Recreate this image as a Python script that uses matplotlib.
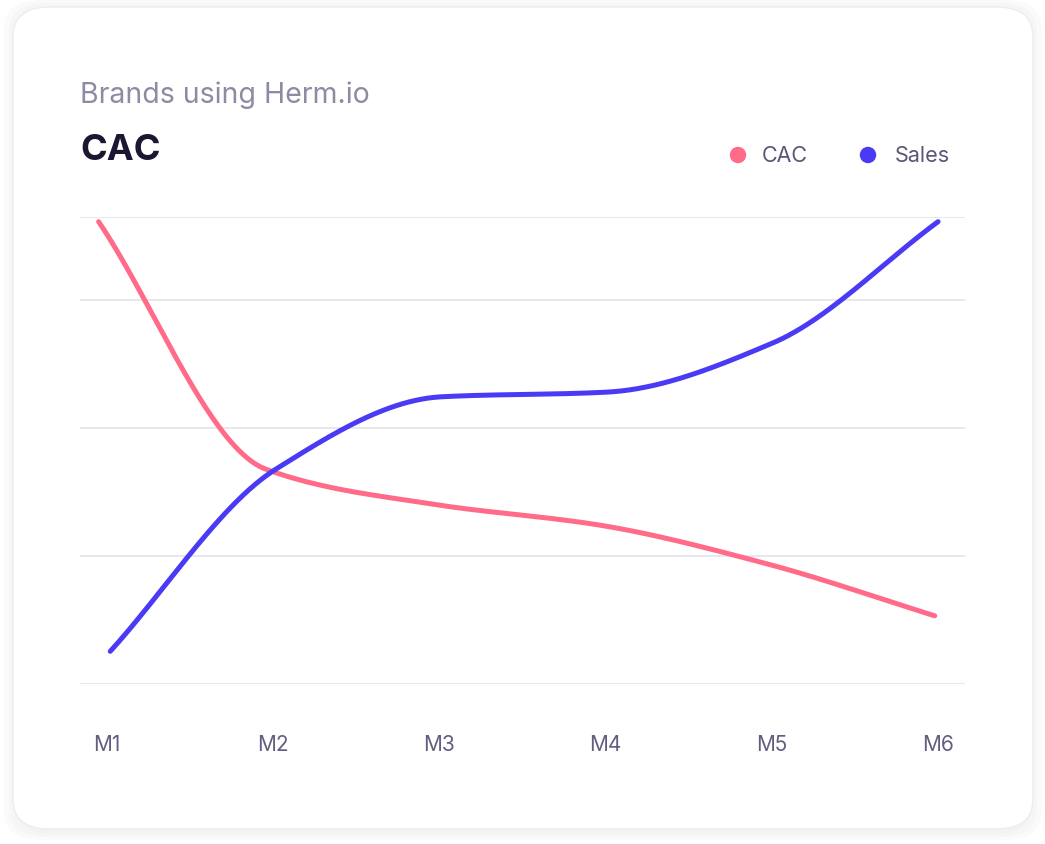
import numpy as np
import matplotlib
matplotlib.use("Agg")
import matplotlib.pyplot as plt
from matplotlib.patches import FancyBboxPatch, Ellipse

months = ["M1", "M2", "M3", "M4", "M5", "M6"]
cac = [99, 46, 38.5, 34, 25.7, 14.6]
sales = [7, 46, 61.5, 62.5, 73, 99]
grid_vals = [0, 27.4, 54.8, 82.2, 100]

def pchip(x, y, xs):
    x = np.asarray(x, float); y = np.asarray(y, float)
    h = np.diff(x); d = np.diff(y) / h
    m = np.zeros_like(y)
    for i in range(1, len(y) - 1):
        if d[i-1] * d[i] > 0:
            w1 = 2*h[i] + h[i-1]; w2 = h[i] + 2*h[i-1]
            m[i] = (w1 + w2) / (w1/d[i-1] + w2/d[i])
    m[0] = d[0]; m[-1] = d[-1]
    out = np.empty_like(xs)
    for k, t in enumerate(xs):
        i = min(int(np.searchsorted(x, t, side='right') - 1), len(x) - 2)
        s = (t - x[i]) / h[i]
        h00 = 2*s**3 - 3*s**2 + 1; h10 = s**3 - 2*s**2 + s
        h01 = -2*s**3 + 3*s**2; h11 = s**3 - s**2
        out[k] = h00*y[i] + h10*h[i]*m[i] + h01*y[i+1] + h11*h[i]*m[i+1]
    return out

fig = plt.figure(figsize=(10.45, 8.45), dpi=100)
fig.patch.set_facecolor("white")
W, H = 1045, 845
for i, a in enumerate([0.02, 0.015, 0.01]):
    g = (3 - i) * 3
    fig.patches.append(FancyBboxPatch(((13-g+i*2)/W, (845-832-g)/H), (1020+2*g-i*4)/W, (822+2*g)/H,
        boxstyle="round,pad=0,rounding_size=0.035", transform=fig.transFigure,
        facecolor="black", alpha=a, edgecolor="none", zorder=0))
fig.patches.append(FancyBboxPatch((13/W, (845-830)/H), 1020/W, 822/H,
    boxstyle="round,pad=0,rounding_size=0.035", transform=fig.transFigure,
    facecolor="white", edgecolor="#ececf2", linewidth=1, zorder=1))

ax = fig.add_axes([80/W, (845-685)/H, 885/W, 467/H])
ax.set_zorder(5)
ax.set_facecolor("none")
x = np.arange(len(months))
xs = np.linspace(0, 5, 400)
ax.plot(xs + np.interp(xs, [0, 5], [-0.05, -0.02]), pchip(x, cac, xs), color="#ff6b88", lw=3.6, solid_capstyle="round", zorder=3)
ax.plot(xs + np.interp(xs, [0, 5], [0.02, 0.0]), pchip(x, sales, xs), color="#4b3af5", lw=3.6, solid_capstyle="round", zorder=4)
for g in grid_vals:
    ax.axhline(g, color="#e6e5ee", lw=1.3, zorder=1)
ax.set_xlim(-0.162, 5.162)
ax.set_ylim(0, 100)
ax.set_xticks(x)
ax.set_xticklabels(months, fontsize=15, color="#625e80", family="Inter")
ax.tick_params(axis="x", length=0, pad=36)
ax.set_yticks([])
for s in ax.spines.values():
    s.set_visible(False)

fig.text(80/W, 1 - 95/H, "Brands using Herm.io", fontsize=20.5, color="#8e8aa3", va="center", family="Inter", zorder=6)
fig.text(80/W, 1 - 150/H, "CAC", fontsize=26, color="#1a1733", va="center", fontweight="bold", family="Inter", zorder=6)
for cx, tx, lab, col in [(738, 762, "CAC", "#ff6b88"), (868, 895, "Sales", "#4b3af5")]:
    fig.patches.append(Ellipse((cx/W, 1 - 156/H), 15/W, 15/H, transform=fig.transFigure, color=col, zorder=5))
    fig.text(tx/W, 1 - 156/H, lab, fontsize=15.5, color="#5a5676", va="center", family="Inter", zorder=6)

fig.savefig("out.png", dpi=100)
